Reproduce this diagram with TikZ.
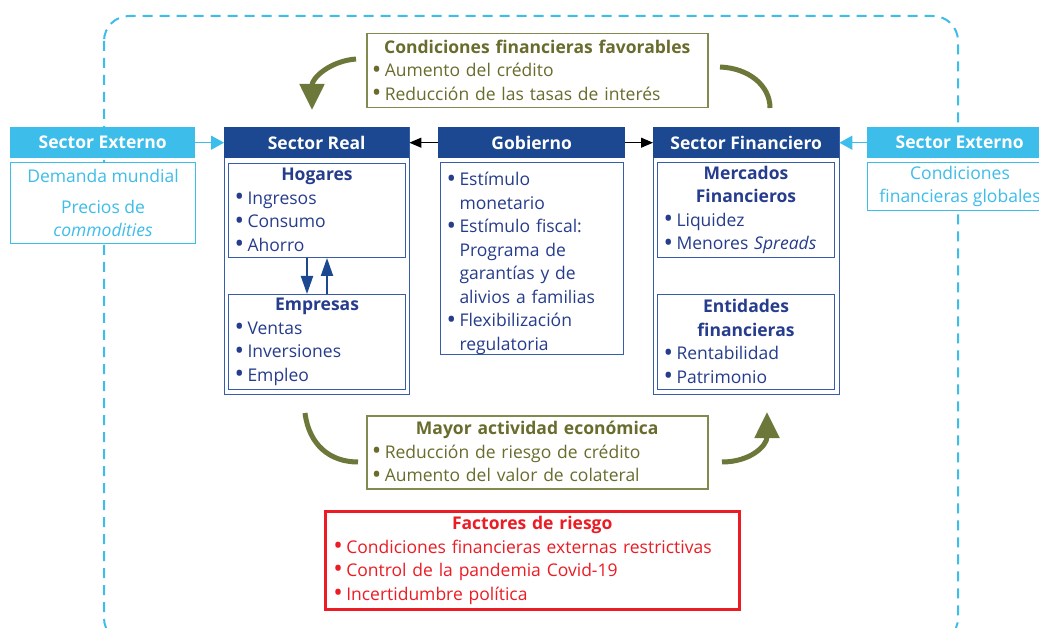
\documentclass[tikz,border=0pt]{standalone}
\usepackage{fontspec}
\setmainfont{Open Sans}
\usetikzlibrary{arrows.meta}

\definecolor{cyanx}{RGB}{61,189,233}
\definecolor{bluehd}{RGB}{27,72,145}
\definecolor{bluetx}{RGB}{38,60,140}
\definecolor{blueln}{RGB}{55,92,168}
\definecolor{olive}{RGB}{107,120,58}
\definecolor{olivetx}{RGB}{105,108,45}
\definecolor{oliveln}{RGB}{130,138,80}
\definecolor{redx}{RGB}{236,28,36}

\newcommand{\bodyfont}{\fontsize{17.5}{23.5}\selectfont}
\newcommand{\ttl}[1]{{\centering\bfseries #1\par}}
\newcommand{\bul}[1]{\par\noindent\makebox[13pt][l]{\raisebox{-0.08em}{\scalebox{1.45}{\textbullet}}}#1}
\newcommand{\cont}[1]{\par\noindent\hspace*{13pt}#1}

\begin{document}
\begin{tikzpicture}[x=1pt,y=-1pt]

    \tikzset{
      every node/.style={font=\bodyfont},
      hdr/.style={
        anchor=north west,
        fill=bluehd,
        text=white,
        font=\bodyfont\bfseries,
        minimum height=31pt,
        inner sep=0pt,
      },
      frame/.style={anchor=north west, draw=blueln, line width=1pt, fill=white, inner sep=0pt},
      box/.style={
        anchor=north west,
        draw=blueln,
        line width=1pt,
        fill=white,
        text=bluetx,
        inner xsep=6pt,
        inner ysep=0pt,
        align=left,
      },
      greenbox/.style={box, draw=oliveln, text=olivetx, line width=1.5pt, inner xsep=5pt},
      curve/.style={draw=olive, line width=5pt},
      curvearr/.style={curve, -{Triangle[width=24pt,length=26pt]}},
      cyanarr/.style={draw=cyanx, line width=1.5pt, -{Triangle[width=14pt,length=13pt]}},
      blackarr/.style={draw=black, line width=1pt, -{Triangle[width=10pt,length=12pt]}},
      bluearr/.style={draw=bluehd, line width=2pt, -{Triangle[width=12pt,length=18pt]}},
    }
    \useasboundingbox (0,0) rectangle (1039,628);
    \clip (0,0) rectangle (1039,628);

    % dashed frame
    \draw[cyanx, line width=2pt, dash pattern=on 10pt off 7pt, rounded corners=25pt]
      (104,16) rectangle (958,643);

    % sector externo (izquierda)
    \node[hdr, fill=cyanx, minimum width=185pt] (extL) at (10,127) {Sector Externo};
    \node[box, draw=cyanx, text=cyanx, align=center, minimum width=185pt, minimum height=81pt]
      (extLbody) at (10,162) {Demanda mundial\\[7pt]Precios de\\\textit{commodities}};

    % sector real
    \node[frame, minimum width=185pt, minimum height=267pt] (realfr) at (224,127) {};
    \node[hdr, minimum width=185pt] (real) at (224,127) {Sector Real};
    \node[box, text width=165pt, minimum height=94pt] (hog) at (228,163)
      {\ttl{Hogares}\bul{Ingresos}\bul{Consumo}\bul{Ahorro}};
    \node[box, text width=165pt, minimum height=95pt] (emp) at (228,294)
      {\ttl{Empresas}\bul{Ventas}\bul{Inversiones}\bul{Empleo}};
    \draw[bluearr] ([xshift=-10pt]hog.south) -- ([xshift=-10pt]emp.north);
    \draw[bluearr] ([xshift=10pt]emp.north) -- ([xshift=10pt]hog.south);

    % gobierno
    \node[hdr, minimum width=187pt] (gob) at (438,127) {Gobierno};
    \node[box, text width=171pt, minimum height=191pt] (gobbody) at (440,162)
      {\bul{Estímulo}\cont{monetario}\bul{Estímulo fiscal:}\cont{Programa de}\cont{garantías y de}\cont{alivios a familias}\bul{Flexibilización}\cont{regulatoria}};

    % sector financiero
    \node[frame, minimum width=186pt, minimum height=267pt] (finfr) at (653,127) {};
    \node[hdr, minimum width=186pt] (fin) at (653,127) {Sector Financiero};
    \node[box, text width=165pt, minimum height=95pt] (merc) at (657,162)
      {\ttl{Mercados\\Financieros}\bul{Liquidez}\bul{Menores \textit{Spreads}}};
    \node[box, text width=165pt, minimum height=95pt] (ent) at (657,294)
      {\ttl{Entidades\\financieras}\bul{Rentabilidad}\bul{Patrimonio}};

    % sector externo (derecha)
    \node[hdr, fill=cyanx, minimum width=185pt] (extR) at (867,127) {Sector Externo};
    \node[box, draw=cyanx, text=cyanx, align=center, minimum width=185pt, minimum height=48pt]
      (extRbody) at (867,162) {Condiciones\\financieras globales};

    \draw[cyanarr] (extL) -- (real);
    \draw[cyanarr] (extR) -- (fin);
    \draw[blackarr] (gob) -- (real);
    \draw[blackarr] (gob) -- (fin);

    % condiciones / actividad
    \node[greenbox, text width=331pt, minimum height=74pt] (favor) at (366,33)
      {\ttl{Condiciones financieras favorables}\bul{Aumento del crédito}\bul{Reducción de las tasas de interés}};
    \node[greenbox, text width=331pt, minimum height=73pt] (activ) at (366,415)
      {\ttl{Mayor actividad económica}\bul{Reducción de riesgo de crédito}\bul{Aumento del valor de colateral}};

    \coordinate (tlA) at (356,59);
    \coordinate (tlB) at (312,110);
    \coordinate (trA) at (720,67);
    \coordinate (trB) at (770,108);
    \coordinate (blA) at (305,413);
    \coordinate (blB) at (358,462);
    \coordinate (brA) at (722,462);
    \coordinate (brB) at (767,412);
    \draw[curvearr] (tlA) .. controls (330,61) and (312,78) .. (tlB);
    \draw[curve] (trA) .. controls (748,68) and (770,85) .. (trB);
    \draw[curve] (blA) .. controls (309,445) and (330,462) .. (blB);
    \draw[curvearr] (brA) .. controls (750,462) and (767,446) .. (brB);

    % riesgos
    \node[box, draw=redx, text=redx, line width=2.5pt, inner xsep=8pt, text width=398pt, minimum height=98pt]
      (riesgo) at (324,510)
      {\ttl{Factores de riesgo}\bul{Condiciones financieras externas restrictivas}\bul{Control de la pandemia Covid-19}\bul{Incertidumbre política}};

\end{tikzpicture}
\end{document}
